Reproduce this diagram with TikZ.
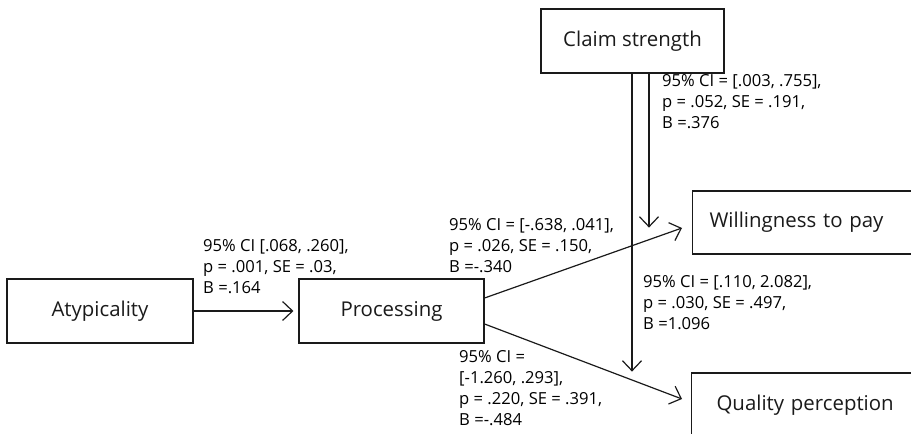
\documentclass[tikz,border=0pt]{standalone}
\usepackage{fontspec}
\setmainfont{Open Sans}
\usetikzlibrary{arrows.meta,calc}
\definecolor{ink}{HTML}{1A1A1A}
\tikzset{
  boxnode/.style={draw=ink,line width=1.2pt,rectangle,minimum height=64pt,inner sep=0pt,text=ink,font=\fontsize{20.4}{24}\selectfont},
  openbox/.style={boxnode,minimum width=240pt,anchor=west,align=left},
  conn/.style={draw=ink,line width=1.2pt,-{Straight Barb[length=10pt,width=19pt]}},
  statlabel/.style={anchor=north west,inner sep=0pt,align=left,text=black,font=\fontsize{16.6}{21}\selectfont}
}
\begin{document}
\begin{tikzpicture}[x=1pt,y=1pt]
\useasboundingbox (0,0) rectangle (911,434);
\clip (0,0) rectangle (911,434);
% boxes
\node[boxnode,minimum width=186pt] (atyp) at (100,123) {Atypicality};
\node[boxnode,minimum width=185pt] (proc) at (391.5,123) {Processing};
\node[boxnode,minimum width=183pt] (claim) at (632.5,393) {Claim strength};
\node[openbox,minimum height=63pt,text width=206pt,inner xsep=17pt] (will) at (692,211.5) {Willingness to pay};
\node[openbox,text width=190pt,inner xsep=25pt] (qual) at (691,29) {Quality perception};
% free ends
\coordinate (modqtop) at ($(claim.south)+(-0.5,0)$);
\coordinate (modq) at ($(claim.south)+(-0.5,-298)$);
\coordinate (modwtop) at ($(claim.south)+(16.5,0)$);
\coordinate (modw) at ($(claim.south)+(16.5,-154)$);
% connectors
\draw[conn,shorten >=5pt] (atyp.east) -- (proc.west);
\draw[conn] ($(proc.east)+(0,13)$) -- ($(will.west)+(-10,-5.5)$);
\draw[conn] ($(proc.east)+(0,-13)$) -- ($(qual.west)+(-9,6)$);
\draw[conn] (modqtop) -- (modq);
\draw[conn] (modwtop) -- (modw);
% labels
\node[statlabel] (l1) at (203,194.5) {95\% CI [.068, .260],\\p = .001, SE = .03,\\B =.164};
\node[statlabel] (l2) at (449,215.5) {95\% CI = [-.638, .041],\\p = .026, SE = .150,\\B =-.340};
\node[statlabel] (l3) at (459,83.5) {95\% CI =\\{[}-1.260, .293],\\p = .220, SE = .391,\\B =-.484};
\node[statlabel] (l4) at (662,359.5) {95\% CI = [.003, .755],\\p = .052, SE = .191,\\B =.376};
\node[statlabel] (l5) at (643,158.5) {95\% CI = [.110, 2.082],\\p = .030, SE = .497,\\B =1.096};
\end{tikzpicture}
\end{document}
